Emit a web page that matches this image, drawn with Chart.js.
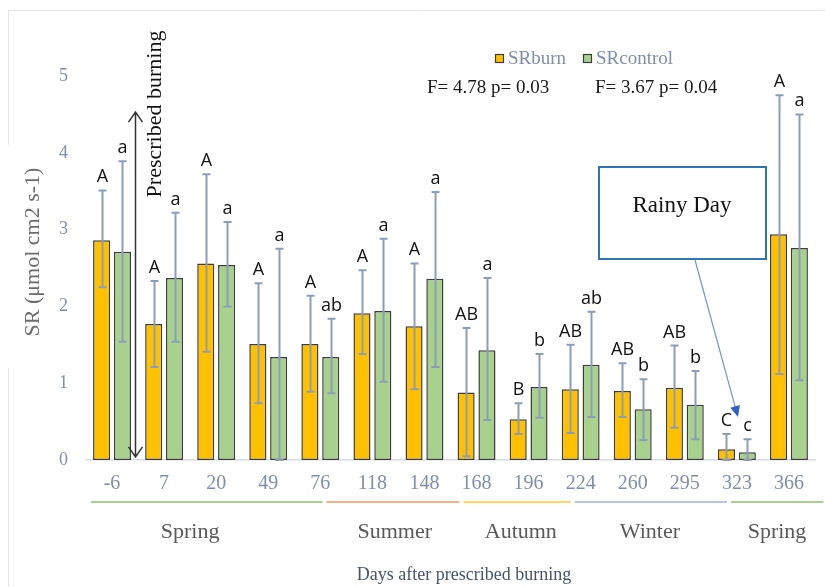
<!DOCTYPE html>
<html>
<head>
<meta charset="utf-8">
<script src="https://cdn.jsdelivr.net/npm/chart.js@4/dist/chart.umd.min.js"></script>
<style>
html,body{margin:0;padding:0;background:#fff;}
#wrap{width:825px;height:587px;position:relative;}
</style>
</head>
<body>
<div id="wrap"><canvas id="c" width="825" height="587"></canvas></div>
<script>
// ---- data ----
const days = ['-6','7','20','49','76','118','148','168','196','224','260','295','323','366'];
const srBurn    = [2.86,1.77,2.56,1.51,1.51,1.91,1.74,0.88,0.53,0.92,0.90,0.94,0.14,2.94];
const srControl = [2.71,2.37,2.54,1.34,1.34,1.94,2.36,1.43,0.95,1.24,0.66,0.72,0.10,2.76];
const burnErrHigh    = [3.51,2.33,3.72,2.30,2.14,2.47,2.56,1.72,0.74,1.50,1.26,1.49,0.34,4.75];
const burnErrLow     = [2.25,1.21,1.41,0.74,0.89,1.38,0.92,0.05,0.34,0.35,0.56,0.42,0.00,1.12];
const controlErrHigh = [3.89,3.22,3.10,2.75,1.84,2.88,3.49,2.37,1.38,1.93,1.05,1.16,0.27,4.50];
const controlErrLow  = [1.54,1.54,2.00,0.00,0.87,1.02,1.21,0.52,0.55,0.56,0.26,0.27,0.00,1.04];
const burnLetters    = ['A','A','A','A','A','A','A','AB','B','AB','AB','AB','C','A'];
const controlLetters = ['a','a','a','a','ab','a','a','a','b','ab','b','b','c','a'];
const seriesNames = ['SRburn','SRcontrol'];
const yTicks = [0,1,2,3,4,5];
const seasonNames  = ['Spring','Summer','Autumn','Winter','Spring'];
const seasonBounds = [-0.44, 4.08, 6.71, 8.85, 11.85, 13.7];   // category-index units
const seasonLabelAt = [1.5, 5.43, 7.85, 10.33, 12.77];
const statTexts = ['F= 4.78 p= 0.03','F= 3.67 p= 0.04'];

// ---- styles ----
const burnColor = '#FFC000';
const controlColor = '#A9D18E';
const barEdge = '#3d3d3d';
const errColor = '#8C9DBB';
const tickColor = '#7F8FA9';
const seasonColors = ['#A9D18E','#F4B183','#FFD966','#B4C7E7','#A9D18E'];
const serif = '"Liberation Serif", "Times New Roman", serif';

const annot = {
  id: 'annot',
  beforeDraw(chart) {
    const ctx = chart.ctx;
    ctx.save();
    ctx.strokeStyle = '#E3E8EE';
    ctx.lineWidth = 1;
    ctx.beginPath();
    ctx.moveTo(8, 10.5); ctx.lineTo(825, 10.5);
    ctx.moveTo(8.5, 10); ctx.lineTo(8.5, 145);
    ctx.moveTo(8.5, 368); ctx.lineTo(8.5, 587);
    ctx.stroke();
    ctx.restore();
  },
  afterDatasetsDraw(chart) {
    const ctx = chart.ctx;
    const x = chart.scales.x, y = chart.scales.y;
    ctx.save();
    const sets = [[0, burnErrLow, burnErrHigh, burnLetters],[1, controlErrLow, controlErrHigh, controlLetters]];
    sets.forEach(([di, lo, hi, lets]) => {
      const meta = chart.getDatasetMeta(di);
      meta.data.forEach((bar, i) => {
        const cx = Math.round(bar.x) + 0.5;
        const yt = y.getPixelForValue(hi[i]);
        const yb = y.getPixelForValue(lo[i]);
        ctx.strokeStyle = errColor;
        ctx.lineWidth = 2;
        ctx.beginPath();
        ctx.moveTo(cx, yt); ctx.lineTo(cx, yb);
        ctx.moveTo(cx - 4, yt); ctx.lineTo(cx + 4, yt);
        ctx.moveTo(cx - 4, yb); ctx.lineTo(cx + 4, yb);
        ctx.stroke();
        ctx.fillStyle = '#111';
        ctx.font = '18px "Open Sans", sans-serif';
        ctx.textAlign = 'center';
        ctx.textBaseline = 'alphabetic';
        ctx.fillText(lets[i], cx, yt - 8);
      });
    });

    // season lines + labels
    const edge = v => {
      const p0 = x.getPixelForValue(0), p1 = x.getPixelForValue(1);
      return p0 + (p1 - p0) * v;
    };
    for (let s = 0; s < seasonNames.length; s++) {
      ctx.strokeStyle = seasonColors[s];
      ctx.lineWidth = 2;
      ctx.beginPath();
      ctx.moveTo(edge(seasonBounds[s]) + 2, 502);
      ctx.lineTo(edge(seasonBounds[s + 1]) - 2, 502);
      ctx.stroke();
      ctx.fillStyle = '#595959';
      ctx.font = '22px ' + serif;
      ctx.textAlign = 'center';
      ctx.textBaseline = 'middle';
      ctx.fillText(seasonNames[s], edge(seasonLabelAt[s]), 532);
    }

    // axis titles
    ctx.fillStyle = '#44546A';
    ctx.font = '18px ' + serif;
    ctx.textAlign = 'center';
    ctx.textBaseline = 'middle';
    ctx.fillText('Days after prescribed burning', 464, 575);

    ctx.save();
    ctx.translate(33, 252);
    ctx.rotate(-Math.PI / 2);
    ctx.fillStyle = '#6b6b6b';
    ctx.font = '22px ' + serif;
    ctx.fillText('SR (\u03bcmol cm2 s-1)', 0, 0);
    ctx.restore();

    // legend
    const legend = [[495, burnColor, seriesNames[0]], [583, controlColor, seriesNames[1]]];
    legend.forEach(([lx, col, name]) => {
      ctx.fillStyle = col;
      ctx.fillRect(lx, 54, 9, 9);
      ctx.strokeStyle = barEdge;
      ctx.lineWidth = 1.2;
      ctx.strokeRect(lx + 0.5, 54.5, 8, 8);
      ctx.fillStyle = tickColor;
      ctx.font = '19px ' + serif;
      ctx.textAlign = 'left';
      ctx.textBaseline = 'middle';
      ctx.fillText(name, lx + 13, 59);
    });

    // stats
    ctx.fillStyle = '#1a1a1a';
    ctx.font = '19px ' + serif;
    ctx.textAlign = 'left';
    ctx.textBaseline = 'middle';
    ctx.fillText(statTexts[0], 427, 88);
    ctx.fillText(statTexts[1], 595, 88);

    // prescribed burning arrow
    const ax = Math.round((x.getPixelForValue(0) + x.getPixelForValue(1)) / 2) - 2.5;
    const aTop = y.getPixelForValue(4.53), aBot = y.getPixelForValue(0.04);
    ctx.strokeStyle = '#333';
    ctx.lineWidth = 1.5;
    ctx.beginPath();
    ctx.moveTo(ax, aTop); ctx.lineTo(ax, aBot);
    ctx.moveTo(ax - 7, aTop + 10); ctx.lineTo(ax, aTop); ctx.lineTo(ax + 7, aTop + 10);
    ctx.moveTo(ax - 7, aBot - 10); ctx.lineTo(ax, aBot); ctx.lineTo(ax + 7, aBot - 10);
    ctx.stroke();
    ctx.save();
    ctx.translate(ax + 20, 114);
    ctx.rotate(-Math.PI / 2);
    ctx.fillStyle = '#111';
    ctx.font = '22px ' + serif;
    ctx.textAlign = 'center';
    ctx.textBaseline = 'middle';
    ctx.fillText('Prescribed burning', 0, 0);
    ctx.restore();

    // rainy day box
    ctx.fillStyle = '#fff';
    ctx.fillRect(599, 167, 167, 92);
    ctx.strokeStyle = '#2E75B6';
    ctx.lineWidth = 2;
    ctx.strokeRect(599, 167, 167, 92);
    ctx.fillStyle = '#111';
    ctx.font = '23px ' + serif;
    ctx.textAlign = 'center';
    ctx.textBaseline = 'middle';
    ctx.fillText('Rainy Day', 682, 206);
    // arrow to 323
    const tx = 738, ty = 417, fx = 695, fy = 260;
    const ang = Math.atan2(ty - fy, tx - fx);
    ctx.strokeStyle = '#6E95D6';
    ctx.lineWidth = 1.2;
    ctx.beginPath();
    ctx.moveTo(fx, fy);
    ctx.lineTo(tx - 8 * Math.cos(ang), ty - 8 * Math.sin(ang));
    ctx.stroke();
    ctx.fillStyle = '#2F62C8';
    ctx.beginPath();
    ctx.moveTo(tx, ty);
    ctx.lineTo(tx - 11 * Math.cos(ang) + 5 * Math.sin(ang), ty - 11 * Math.sin(ang) - 5 * Math.cos(ang));
    ctx.lineTo(tx - 11 * Math.cos(ang) - 5 * Math.sin(ang), ty - 11 * Math.sin(ang) + 5 * Math.cos(ang));
    ctx.closePath();
    ctx.fill();
    ctx.restore();
  }
};

new Chart(document.getElementById('c'), {
  type: 'bar',
  data: {
    labels: days,
    datasets: [
      { label: seriesNames[0], data: srBurn, backgroundColor: burnColor, borderColor: barEdge, borderWidth: 1.5, borderSkipped: false },
      { label: seriesNames[1], data: srControl, backgroundColor: controlColor, borderColor: barEdge, borderWidth: 1.5, borderSkipped: false }
    ]
  },
  options: {
    responsive: false,
    animation: false,
    devicePixelRatio: 1,
    layout: { padding: { left: 0, right: 10, top: 76, bottom: 0 } },
    datasets: { bar: { categoryPercentage: 0.8, barPercentage: 0.82 } },
    plugins: { legend: { display: false }, tooltip: { enabled: false } },
    scales: {
      x: {
        grid: { display: false, drawTicks: false },
        border: { display: true, color: '#D6DCE5', width: 1.5 },
        ticks: { color: tickColor, font: { family: serif, size: 20 }, padding: 12, maxRotation: 0, autoSkip: false },
        afterFit(s) { s.height = 127; }
      },
      y: {
        min: 0, max: 5,
        grid: { display: false, drawTicks: false },
        border: { display: false },
        afterBuildTicks(s) { s.ticks = yTicks.map(v => ({ value: v })); },
        ticks: { color: tickColor, font: { family: serif, size: 18 }, padding: 18 },
        afterFit(s) { s.width = 86; }
      }
    }
  },
  plugins: [annot]
});
</script>
</body>
</html>
